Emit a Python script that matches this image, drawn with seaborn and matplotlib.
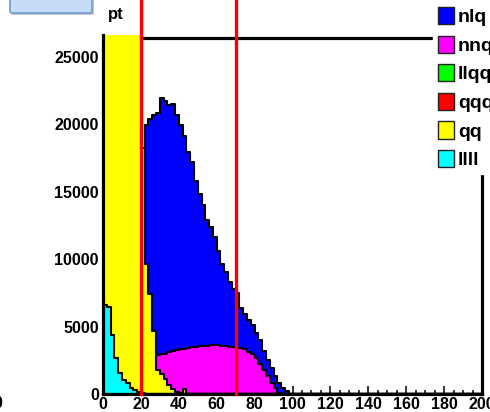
import numpy as np
import pandas as pd
import matplotlib
matplotlib.use("Agg")
import matplotlib.pyplot as plt
from matplotlib.patches import Patch, FancyBboxPatch, Rectangle
import seaborn as sns

# ---------------- data (bin width 2, range 0-200) ----------------
bin_lo, bin_hi, bin_w = 0, 200, 2
series_names = ["nlq", "nnq", "llqq", "qqqq", "qq", "llll"]
series_colors = ["#0000ff", "#ff00ff", "#00ff00", "#ff0000", "#ffff00", "#00ffff"]

nlq_start = 11
nlq = [19950, 20350, 20650, 20800, 21950, 21700, 21400, 21500, 20700, 19950,
       19100, 17900, 17200, 15750, 14800, 14000, 12900, 12400, 11600, 10600,
       9650, 9050, 8300, 7750, 7450, 6400, 5900, 5500, 5100, 4500,
       4000, 3200, 2500, 1900, 1300, 850, 480, 200]

nnq_start = 14
nnq = [2900, 2950, 3000, 3100, 3150, 3250, 3300, 3350, 3400, 3450,
       3480, 3520, 3550, 3580, 3600, 3620, 3600, 3580, 3550, 3500,
       3480, 3400, 3380, 3300, 3100, 2980, 2700, 2250, 1800, 1300,
       850, 430, 100]

llqq_start = 0
llqq = []

qqqq_start = 0
qqqq = []

qq_start = 0
qq = [95000, 80000, 68000, 58000, 50000, 44000, 39000, 35000, 31000, 28000,
      18200, 9600, 7400, 4700, 1800, 1450, 1100, 700, 350, 120,
      40, 400]

llll_start = 0
llll = [6590, 6470, 4370, 2700, 1530, 1040, 790, 470, 300, 170, 60, 20]

cut_lines = [20, 70]
x_ticks = [0, 20, 40, 60, 80, 100, 120, 140, 160, 180, 200]
y_ticks = [0, 5000, 10000, 15000, 20000, 25000]
y_max = 26600
title_text = "pt"

# ---------------- build long table ----------------
edges = np.arange(bin_lo, bin_hi + bin_w, bin_w)
centers = (edges[:-1] + edges[1:]) / 2
n_bins = len(centers)

def full_counts(vals, start):
    arr = np.zeros(n_bins)
    arr[start:start + len(vals)] = vals
    return arr

all_series = {
    "nlq": full_counts(nlq, nlq_start),
    "nnq": full_counts(nnq, nnq_start),
    "llqq": full_counts(llqq, llqq_start),
    "qqqq": full_counts(qqqq, qqqq_start),
    "qq": full_counts(qq, qq_start),
    "llll": full_counts(llll, llll_start),
}
df = pd.concat([pd.DataFrame({"pt": centers, "w": v, "sample": k})
                for k, v in all_series.items()], ignore_index=True)

# ---------------- figure ----------------
W, H = 490, 412
fig = plt.figure(figsize=(W / 100, H / 100), dpi=100)
ax_l, ax_r, ax_t, ax_b = 103, 482, 35, 394
ax = fig.add_axes([ax_l / W, (H - ax_b) / H, (ax_r - ax_l) / W, (ax_b - ax_t) / H])
ax.set_facecolor("white")

# overlaid (not stacked) filled histograms, drawn in legend order
for name, col in zip(series_names, series_colors):
    sub = df[df["sample"] == name]
    sns.histplot(data=sub, x="pt", weights="w", binwidth=bin_w,
                 binrange=(bin_lo, bin_hi), element="step",
                 fill=True, color=col, alpha=1, edgecolor="black",
                 linewidth=1.5, ax=ax, zorder=1)

ax.set_xlim(bin_lo, bin_hi)
ax.set_ylim(0, y_max)
ax.set_xlabel("")
ax.set_ylabel("")
ax.set_axisbelow(True)

# frame: top line sits under the fills (like ROOT)
ax.spines["top"].set_visible(False)
ax.axhline(y_max * 0.9925, color="black", lw=2.3, zorder=0.6)
for s in ["left", "bottom", "right"]:
    ax.spines[s].set_linewidth(2.3)
    ax.spines[s].set_color("black")

tick_font = {"family": "Liberation Sans", "weight": "bold", "size": 11.5}
ax.set_xticks(x_ticks)
ax.set_xticklabels([str(t) for t in x_ticks], fontdict=tick_font)
ax.set_xticks(np.arange(bin_lo, bin_hi + 1, 5), minor=True)
ax.set_yticks(y_ticks)
ax.set_yticklabels([str(t) for t in y_ticks], fontdict=tick_font)
ax.tick_params(axis="x", which="major", direction="in", length=6, width=1.1, pad=2.5)
ax.tick_params(axis="x", which="minor", direction="in", length=3, width=1.1)
ax.tick_params(axis="y", which="both", length=0, pad=3)

# cut lines, extending above the frame to the canvas top
for xc in cut_lines:
    ax.axvline(xc, ymin=0, ymax=(ax_b) / (ax_b - ax_t), color="#ff0000",
               lw=2.4, clip_on=False, zorder=5)

# legend (white box covering frame corner, clipped by canvas edge)
handles = [Patch(facecolor=c, edgecolor="#202020", linewidth=1.0) for c in series_colors]
leg = fig.legend(handles, series_names, loc="upper left",
                 bbox_to_anchor=(433 / W, 1 - 2 / H), bbox_transform=fig.transFigure,
                 frameon=True, fancybox=False, framealpha=1, facecolor="white",
                 edgecolor="white", borderpad=0.26, borderaxespad=0,
                 handlelength=0.82, handleheight=0.98, handletextpad=0.2,
                 labelspacing=0.48,
                 prop={"family": "Liberation Sans", "weight": "bold", "size": 14})
leg.set_zorder(10)

# title and the clipped title box
fig.patches.append(Rectangle((12 / W, 1 - 15 / H), 82 / W, 16 / H,
                             transform=fig.transFigure, facecolor="#c8c8c8",
                             edgecolor="none", zorder=1))
fig.patches.append(FancyBboxPatch((10 / W, 1 - 13 / H), 82 / W, 16 / H,
                                  boxstyle="round,pad=0,rounding_size=0.004",
                                  transform=fig.transFigure, facecolor="#c6dcf6",
                                  edgecolor="#6f9bd2", linewidth=1.2, zorder=2))
fig.text(108 / W, 1 - 14 / H, title_text, ha="left", va="center",
         family="Liberation Sans", weight="bold", size=12)
fig.text(-2.5 / W, 1 - 404 / H, "0", ha="center", va="center",
         family="Liberation Sans", weight="bold", size=11.5)

fig.savefig("out.png", dpi=100)
